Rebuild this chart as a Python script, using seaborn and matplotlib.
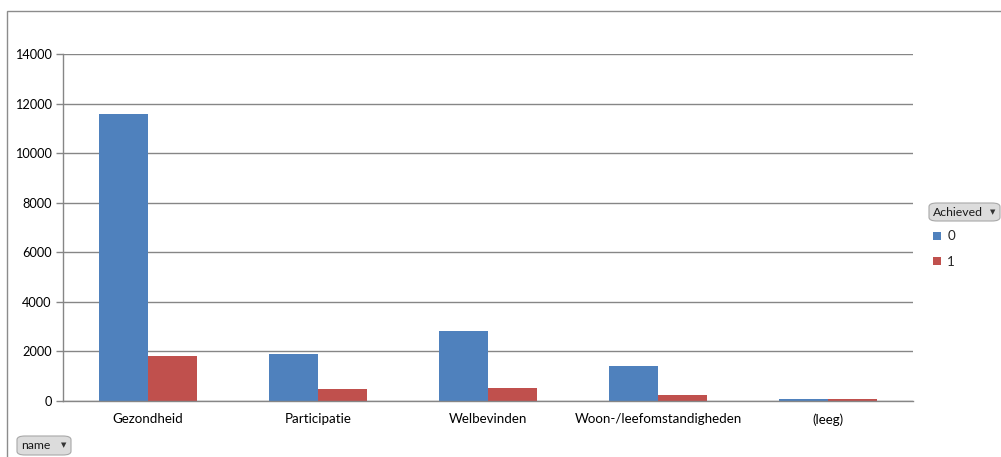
import matplotlib
matplotlib.use("Agg")
import matplotlib.pyplot as plt
from matplotlib.patches import FancyBboxPatch, Rectangle
import numpy as np
import pandas as pd
import seaborn as sns

categories = ["Gezondheid", "Participatie", "Welbevinden", "Woon-/leefomstandigheden", "(leeg)"]
achieved_0 = [11600, 1890, 2820, 1400, 55]
achieved_1 = [1805, 485, 525, 230, 55]
hue_levels = ["0", "1"]
y_ticks = [0, 2000, 4000, 6000, 8000, 10000, 12000, 14000]

colors = {"0": "#4F81BD", "1": "#C0504D"}
grid_color = "#868686"
font_size = 9.6

df = pd.DataFrame({
    "name": categories * 2,
    "Achieved": [hue_levels[0]] * len(categories) + [hue_levels[1]] * len(categories),
    "count": achieved_0 + achieved_1,
})

sns.set_theme(style="white")
plt.rcParams["font.family"] = ["Lato", "DejaVu Sans"]

W, H = 1001, 457
fig = plt.figure(figsize=(W / 100, H / 100), dpi=100)
fig.patch.set_facecolor("white")

# outer chart frame
fig.patches.append(Rectangle((6.5 / W, -0.05), 1.2, (H - 10.5) / H + 0.05,
                             transform=fig.transFigure, fill=False,
                             edgecolor="#8C8C8C", linewidth=1.0))

ax = fig.add_axes([63 / W, (H - 400.7) / H, (913 - 63) / W, (400.7 - 54.3) / H])
sns.barplot(data=df, x="name", y="count", hue="Achieved", hue_order=hue_levels,
            order=categories, palette=colors, width=0.575, saturation=1,
            ax=ax, legend=True)
for bar in ax.patches:
    bar.set_linewidth(0)

ax.set_xlim(-0.5, len(categories) - 0.5)
ax.set_ylim(0, 14000)
ax.set_yticks(y_ticks)
ax.set_yticklabels([str(v) for v in y_ticks], fontsize=9.2, color="#000000")
ax.yaxis.grid(True, color=grid_color, linewidth=1.0)
ax.set_axisbelow(True)
ax.set_xlabel("")
ax.set_ylabel("")

ax.set_xticks(range(len(categories)))
ax.set_xticklabels(categories, fontsize=font_size, color="#000000")
ax.set_xticks(np.arange(-0.5, len(categories), 1.0), minor=True)
ax.tick_params(axis="x", which="major", length=0, pad=9)
ax.tick_params(axis="x", which="minor", length=4, width=1, color=grid_color, direction="out")
ax.tick_params(axis="y", which="major", length=5, width=1, color=grid_color,
               direction="out", pad=3, left=True)

for side in ["top", "right"]:
    ax.spines[side].set_visible(False)
for side in ["left", "bottom"]:
    ax.spines[side].set_color(grid_color)
    ax.spines[side].set_linewidth(1.0)

# legend for the Achieved field
handles, labels = ax.get_legend_handles_labels()
ax.get_legend().remove()
fig.legend(handles, labels, loc="upper left",
           bbox_to_anchor=(928 / W, (H - 225) / H), frameon=False,
           fontsize=font_size, handlelength=0.55, handleheight=0.55,
           handletextpad=0.5, labelspacing=1.0, borderaxespad=0)


def field_button(x0, y0, x1, y1, label):
    box = FancyBboxPatch((x0 / W, (H - y1) / H), (x1 - x0) / W, (y1 - y0) / H,
                         boxstyle="round,pad=0,rounding_size=0.008",
                         transform=fig.transFigure, facecolor="#DCDCDC",
                         edgecolor="#A8A8A8", linewidth=0.8)
    fig.patches.append(box)
    fig.text((x0 + 4) / W, (H - (y0 + y1) / 2) / H, label, fontsize=8.8,
             va="center", ha="left", color="#1a1a1a")
    fig.text((x1 - 7) / W, (H - (y0 + y1) / 2) / H, "\u25BC", fontsize=5,
             va="center", ha="center", color="#333333", family="DejaVu Sans")


field_button(929, 203, 1000, 221, "Achieved")
field_button(17, 436, 71, 455, "name")

fig.savefig("out.png", dpi=100)
